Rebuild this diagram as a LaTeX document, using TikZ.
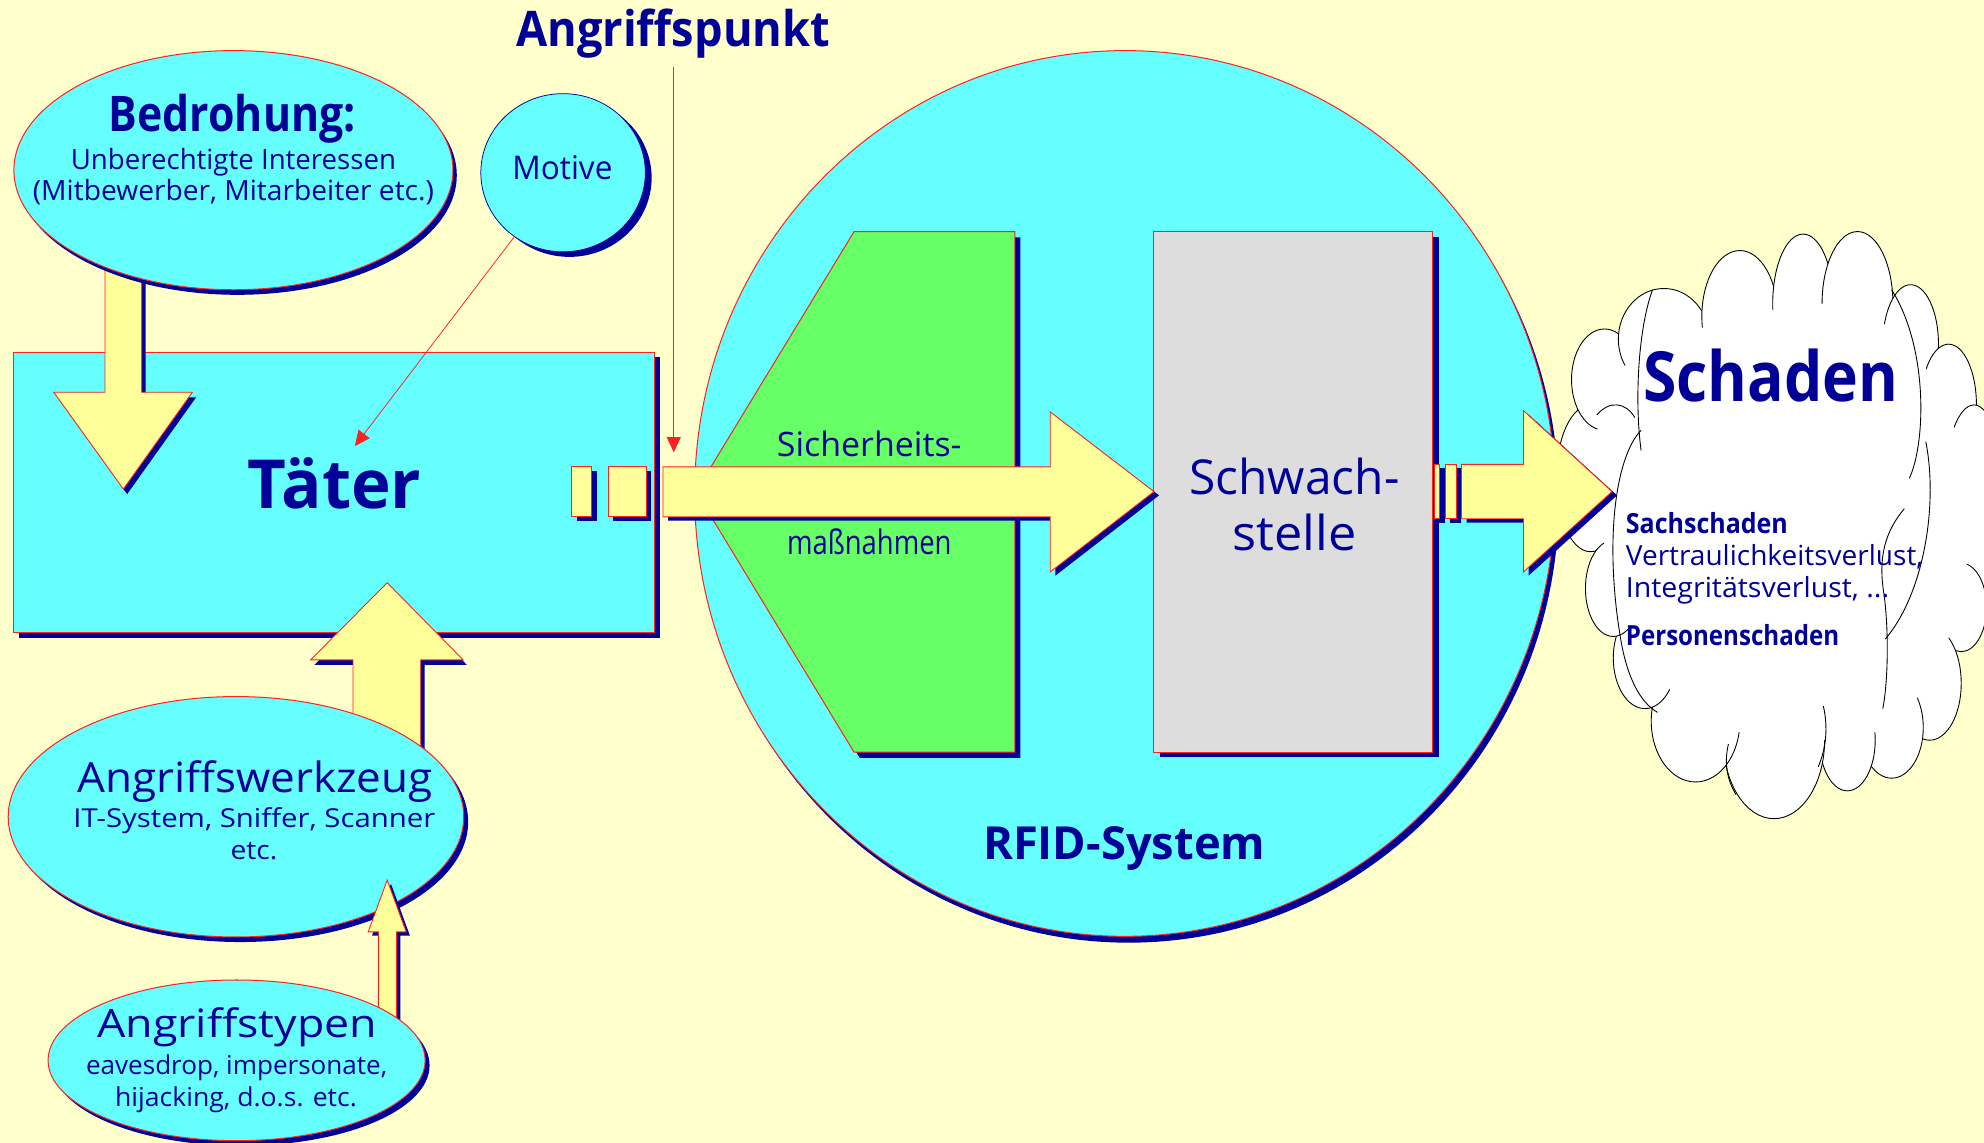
\documentclass[tikz,border=0pt]{standalone}
\usepackage{fontspec}
\usepackage{graphicx}
\setmainfont{Open Sans}
\usetikzlibrary{shapes.geometric,arrows.meta}
\definecolor{bgyellow}{HTML}{FFFFCC}
\definecolor{cyanfill}{HTML}{66FFFF}
\definecolor{navy}{HTML}{000099}
\definecolor{arrowyellow}{HTML}{FFFF99}
\definecolor{greenfill}{HTML}{66FF66}
\definecolor{grayfill}{HTML}{DDDDDD}
\definecolor{linered}{HTML}{FF2020}
% #1 target width, #2 font size, #3 text (height kept, width fitted)
\newcommand\fl[3]{\resizebox{#1pt}{\height}{\fontsize{#2pt}{#2pt}\selectfont #3}}
\newcommand\shadowpath[3]{\fill[navy, shift={#2}] #3; \filldraw[#1] #3;}
\begin{document}
\begin{tikzpicture}[x=1pt,y=-1pt,
  redb/.style={draw=linered, line width=0.8pt},
  yarrow/.style={fill=arrowyellow, draw=linered, line width=0.7pt, line join=miter},
  txt/.style={inner sep=0pt, outer sep=0pt, text=navy, anchor=base},
  txtl/.style={txt, anchor=base west},
  ell/.style={ellipse, inner sep=0pt, outer sep=0pt},
  puff/.style={fill=white, draw=black, line width=0.7pt},
  cloudline/.style={draw=black, line width=0.7pt},
  pointer/.style={draw=linered, line width=0.6pt, -{Triangle[length=12pt,width=11pt]}, linered}
]
\fill[bgyellow] (0,0) rectangle (1568,903);
\useasboundingbox (0,0) rectangle (1568,903);

% ---------- Taeter box ----------
\fill[navy] (15,282.5) rectangle (522,504);
\node[redb, fill=cyanfill, rectangle, inner sep=0pt, outer sep=0pt,
      minimum width=507pt, minimum height=221pt, anchor=north west] (taeter) at (10.5,278.5) {};

% down arrow Bedrohung -> Taeter
\shadowpath{yarrow}{(3,4)}{(83,200) -- (112,200) -- (112,310) -- (152,310) -- (97.5,386.5) -- (42.5,310) -- (83,310) -- cycle}

% Bedrohung ellipse
\fill[navy] (187.5,138.5) ellipse [x radius=173.5, y radius=94.5];
\node[ell, redb, fill=cyanfill, minimum width=347pt, minimum height=189pt] (bedrohung) at (184.5,134.5) {};

% Motive
\fill[navy] (450,140.5) ellipse [x radius=65, y radius=62.5];
\node[ell, draw=navy, line width=0.6pt, fill=cyanfill, minimum width=130pt, minimum height=125pt] (motive) at (445,136.5) {};

% up arrow Angriffswerkzeug -> Taeter
\shadowpath{yarrow}{(3,4)}{(279,620) -- (279,521.5) -- (245.5,521.5) -- (306,460.5) -- (366,521.5) -- (332.5,521.5) -- (332.5,620) -- cycle}

% Angriffswerkzeug ellipse
\fill[navy] (190,649.5) ellipse [x radius=180, y radius=95];
\node[ell, redb, fill=cyanfill, minimum width=360pt, minimum height=190pt] (werkzeug) at (186.5,645.5) {};

% small arrow Angriffstypen -> Angriffswerkzeug
\shadowpath{yarrow}{(3,3)}{(299,830) -- (299,736.5) -- (291,736.5) -- (306,695.5) -- (321,736.5) -- (313.5,736.5) -- (313.5,830) -- cycle}

% Angriffstypen ellipse
\fill[navy] (190.5,842) ellipse [x radius=149, y radius=63.5];
\node[ell, redb, fill=cyanfill, minimum width=298pt, minimum height=127pt] (typen) at (187,838) {};

% ---------- RFID system ----------
\fill[navy] (892,395) ellipse [x radius=340, y radius=350];
\node[ell, redb, fill=cyanfill, minimum width=680pt, minimum height=700pt] (rfid) at (889,390) {};

% Sicherheitsmassnahmen shape
\shadowpath{redb, fill=greenfill}{(4.5,4.5)}{(675,183) -- (802,183) -- (802,594.5) -- (675,594.5) -- (550,388.5) -- cycle}

% Schwachstelle
\fill[navy] (916.5,187) rectangle (1137,598.5);
\node[redb, fill=grayfill, rectangle, inner sep=0pt, outer sep=0pt,
      minimum width=220.5pt, minimum height=411.5pt, anchor=north west] (schwach) at (912,183) {};

% big arrow Taeter -> Schwachstelle
\shadowpath{yarrow}{(4,3)}{(452,369) rectangle (467.5,408.5)}
\shadowpath{yarrow}{(4,3)}{(480.5,369) rectangle (510.5,408.5)}
\shadowpath{yarrow}{(4,3)}{(524,369) -- (830,369) -- (830,325.5) -- (912,388.5) -- (830,452) -- (830,408.5) -- (524,408.5) -- cycle}

% ---------- Cloud ----------
\foreach \cx/\cy/\rx/\ry in {1257/378/27/58, 1268/300/26/40, 1315/268/36/40, 1375/250/30/52,
  1425/240/24/55, 1468/240/28/57, 1510/272/22/47, 1540/320/22/48, 1560/400/25/80,
  1550/480/20/35, 1525/540/25/45, 1495/575/25/40, 1460/585/22/40, 1402/585/40/62,
  1340/570/35/48, 1300/520/25/40, 1275/465/22/38}
  \filldraw[puff] (\cx,\cy) ellipse [x radius=\rx, y radius=\ry];
\fill[white] (1257,378) -- (1268,300) -- (1315,268) -- (1375,250) -- (1425,240) -- (1468,240)
  -- (1510,272) -- (1540,320) -- (1560,400) -- (1550,480) -- (1525,540) -- (1495,575)
  -- (1460,585) -- (1402,585) -- (1340,570) -- (1300,520) -- (1275,465) -- cycle;
\draw[cloudline] (1306,229) .. controls (1294,262) and (1292,320) .. (1297,356);
\draw[cloudline] (1297,340) .. controls (1276,362) and (1268,430) .. (1281,506);
\draw[cloudline] (1495,229) .. controls (1524,275) and (1522,350) .. (1509,378);
\draw[cloudline] (1522,349) .. controls (1532,400) and (1520,470) .. (1490,505);
\draw[cloudline] (1505,402) .. controls (1490,420) and (1484,440) .. (1489,470)
                            .. controls (1493,500) and (1492,540) .. (1488,560);
\draw[cloudline] (1281,506) .. controls (1286,535) and (1296,555) .. (1310,563);
\draw[cloudline] (1366,588) .. controls (1362,605) and (1366,618) .. (1372,628);
\draw[cloudline] (1441,558) .. controls (1445,575) and (1443,592) .. (1437,606);
\draw[cloudline] (1262,328) .. controls (1272,316) and (1285,318) .. (1292,330);

% arrow Schwachstelle -> Schaden
\shadowpath{yarrow}{(4,3)}{(1133.5,367) rectangle (1138,410)}
\shadowpath{yarrow}{(4,3)}{(1142,367) rectangle (1151,410)}
\shadowpath{yarrow}{(4,3)}{(1155,367) -- (1204,367) -- (1204,324.5) -- (1274,388.5) -- (1204,452) -- (1204,410) -- (1155,410) -- cycle}

% ---------- pointers ----------
\coordinate (tipT) at (280.5,352.5);
\draw[pointer] (motive) -- (tipT);
\coordinate (apTop) at (532.5,53);
\coordinate (apTip) at (532.5,357.5);
\draw[pointer] (apTop) -- (apTip);

% ---------- texts ----------
\node[txt] (tTitle) at (532,37) {\fl{248}{38.8}{\bfseries Angriffspunkt}};
\node[txt] (tBed1) at (183.5,104) {\fl{195}{38.8}{\bfseries Bedrohung:}};
\node[txt] (tBed2) at (184.5,134) {\fl{257}{22}{Unberechtigte Interessen}};
\node[txt] (tBed3) at (184.5,158.5) {\fl{317}{22}{(Mitbewerber, Mitarbeiter etc.)}};
\node[txt] (tMot) at (444.5,142) {\fl{79}{25.8}{Motive}};
\node[txt] (tTae) at (264.5,401.5) {\fl{137}{53.5}{\bfseries Täter}};
\node[txt] (tSi1) at (687,361) {\fl{146}{26.6}{Sicherheits-}};
\node[txt] (tSi2) at (687,438) {\fl{130}{26.6}{maßnahmen}};
\node[txt] (tSw1) at (1023,391) {\fl{166}{38}{Schwach-}};
\node[txt] (tSw2) at (1023,435) {\fl{98}{38}{stelle}};
\node[txt] (tRfid) at (888.5,679) {\fl{223}{36}{\bfseries RFID-System}};
\node[txt] (tSch) at (1399.5,317.5) {\fl{201.5}{54.7}{\bfseries Schaden}};
\node[txtl] (tSa1) at (1285,422) {\fl{128}{21.9}{\bfseries Sachschaden}};
\node[txtl] (tSa2) at (1285,447) {\fl{235}{21.9}{Vertraulichkeitsverlust,}};
\node[txtl] (tSa3) at (1285,472) {\fl{208}{21.9}{Integritätsverlust, ...}};
\node[txtl] (tSa4) at (1285,510) {\fl{168.5}{21.9}{\bfseries Personenschaden}};
\node[txt] (tWz1) at (201.5,626) {\fl{281}{32.9}{Angriffswerkzeug}};
\node[txt] (tWz2) at (201,654) {\fl{286}{20.6}{IT-System, Sniffer, Scanner}};
\node[txt] (tWz3) at (200.7,679) {\fl{37}{20.6}{etc.}};
\node[txt] (tTy1) at (187.5,820) {\fl{221}{30.9}{Angriffstypen}};
\node[txt] (tTy2) at (187,849.5) {\fl{238}{20.6}{eavesdrop, impersonate,}};
\node[txt] (tTy3) at (186.5,874.5) {\fl{191}{20.6}{hijacking, d.o.s. etc.}};
\end{tikzpicture}
\end{document}
